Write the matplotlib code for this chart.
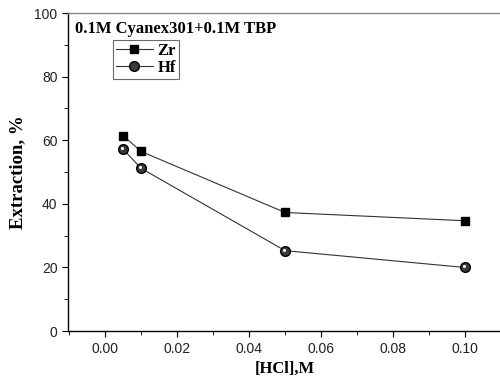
import numpy as np
import matplotlib.pyplot as plt
from matplotlib.ticker import MultipleLocator
from matplotlib.transforms import ScaledTranslation

hcl = [0.005, 0.01, 0.05, 0.1]
zr = [61.5, 56.5, 37.3, 34.7]
hf = [57.2, 51.2, 25.3, 20.0]

SERIF = 'Liberation Serif'
SANS = 'Liberation Sans'

fig = plt.figure(figsize=(5, 3.85), dpi=100)
ax = fig.add_axes([0.136, 0.14, 0.866, 0.826])

ax.plot(hcl, zr, color='#333333', lw=0.8, marker='s', ms=6,
        mfc='black', mec='black', label='Zr')
ax.plot(hcl, hf, color='#333333', lw=0.8, marker='o', ms=7,
        mfc='#3a3a3a', mec='black', label='Hf')
# small highlight on the sphere markers
shift = ScaledTranslation(-0.6 / 72, 0.8 / 72, fig.dpi_scale_trans)
ax.plot(hcl, hf, ls='none', marker='o', ms=2.2, mfc='white', mec='none',
        transform=ax.transData + shift)

ax.set_xlim(-0.0103, 0.1100)
ax.set_ylim(0, 100)
ax.xaxis.set_major_locator(MultipleLocator(0.02))
ax.xaxis.set_minor_locator(MultipleLocator(0.01))
ax.yaxis.set_major_locator(MultipleLocator(20))
ax.yaxis.set_minor_locator(MultipleLocator(10))
ax.xaxis.set_major_formatter(plt.FuncFormatter(lambda v, p: f'{v:.2f}'))
ax.tick_params(which='both', direction='out', top=False, right=False,
               labelsize=10, labelcolor='#222222')
ax.tick_params(which='major', length=4)
ax.tick_params(which='minor', length=3)
for lab in ax.get_xticklabels() + ax.get_yticklabels():
    lab.set_fontfamily(SANS)
for s in ax.spines.values():
    s.set_linewidth(1.0)
ax.spines['right'].set_visible(False)
ax.spines['top'].set_color('#888888')

ax.set_xlabel('[HCl],M', fontfamily=SERIF, fontweight='bold', fontsize=12)
ax.set_ylabel('Extraction, %', fontfamily=SERIF, fontweight='bold',
              fontsize=13.5, labelpad=6)

ax.text(0.017, 0.975, '0.1M Cyanex301+0.1M TBP', transform=ax.transAxes,
        ha='left', va='top', fontfamily=SERIF, fontweight='bold', fontsize=12)

leg = ax.legend(loc='upper left', bbox_to_anchor=(0.105, 0.915),
                prop={'family': SERIF, 'weight': 'bold', 'size': 12},
                frameon=True, fancybox=False, edgecolor='#444444',
                borderpad=0.15, handlelength=2.2, handletextpad=0.3,
                labelspacing=0.1, borderaxespad=0)
leg.get_frame().set_linewidth(0.8)

fig.savefig('out.png', dpi=100)
